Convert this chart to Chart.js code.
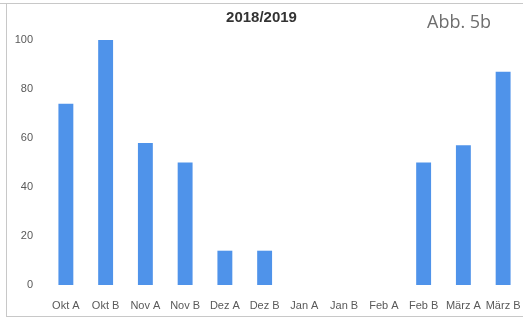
<!DOCTYPE html>
<html>
<head>
<meta charset="utf-8">
<script src="https://cdn.jsdelivr.net/npm/chart.js@4"></script>
<style>
  html, body { margin: 0; padding: 0; background: #fff; }
  #wrap { position: relative; width: 523px; height: 320px; overflow: hidden; }
  #myChart { position: absolute; left: 0; top: 0; }
  .line { position: absolute; background: #c8c8c8; }
  #abb { position: absolute; left: 427px; top: 9px; font: 18px "Open Sans", sans-serif; color: #6e6e6e; }
</style>
</head>
<body>
<div id="wrap">
  <canvas id="myChart" width="523" height="320"></canvas>
  <div class="line" style="left:0;top:3px;width:523px;height:1px"></div>
  <div class="line" style="left:6px;top:3px;width:1px;height:314px"></div>
  <div class="line" style="left:6px;top:316px;width:517px;height:1px"></div>
  <div id="abb">Abb. 5b</div>
</div>
<script>
"use strict";
// data
let labelArr = ["Okt A", "Okt B", "Nov A", "Nov B", "Dez A", "Dez B", "Jan A", "Jan B", "Feb A", "Feb B", "März A", "März B"];
let valueArr = [74, 100, 58, 50, 14, 14, 0, 0, 0, 50, 57, 87];
let tickArr = [0, 20, 40, 60, 80, 100];
let titleText = "2018/2019";

let labelFont = { family: "'Liberation Sans', Arial, sans-serif", size: 11 };

let ctx = document.getElementById("myChart").getContext("2d");
let myChart = new Chart(ctx, {
  type: "bar",
  data: {
    labels: labelArr,
    datasets: [
      {
        data: valueArr,
        backgroundColor: "#4f93ea",
        borderWidth: 0,
        barPercentage: 0.75,
        categoryPercentage: 0.5,
      },
    ],
  },
  options: {
    responsive: false,
    animation: false,
    layout: { padding: { left: 0, right: 0, top: 0, bottom: 0 } },
    plugins: {
      legend: { display: false },
      tooltip: { enabled: false },
      title: {
        display: true,
        text: titleText,
        color: "#333",
        font: { family: "'Liberation Sans', Arial, sans-serif", size: 15, weight: "bold" },
        padding: { top: 9, bottom: 13 },
      },
    },
    scales: {
      x: {
        grid: { display: false, drawTicks: false },
        border: { display: false },
        ticks: { color: "#595959", font: labelFont, padding: 14, maxRotation: 0, autoSkip: false },
        afterFit: (scale) => {
          scale.height = 35;
          scale.paddingLeft = 0;
          scale.paddingRight = 0;
        },
      },
      y: {
        min: 0,
        max: 100,
        afterBuildTicks: (scale) => { scale.ticks = tickArr.map((v) => ({ value: v })); },
        grid: { display: false, drawTicks: false },
        border: { display: false },
        ticks: { color: "#595959", font: labelFont, padding: 13 },
        afterFit: (scale) => { scale.width = 46; },
      },
    },
  },
});
</script>
</body>
</html>
